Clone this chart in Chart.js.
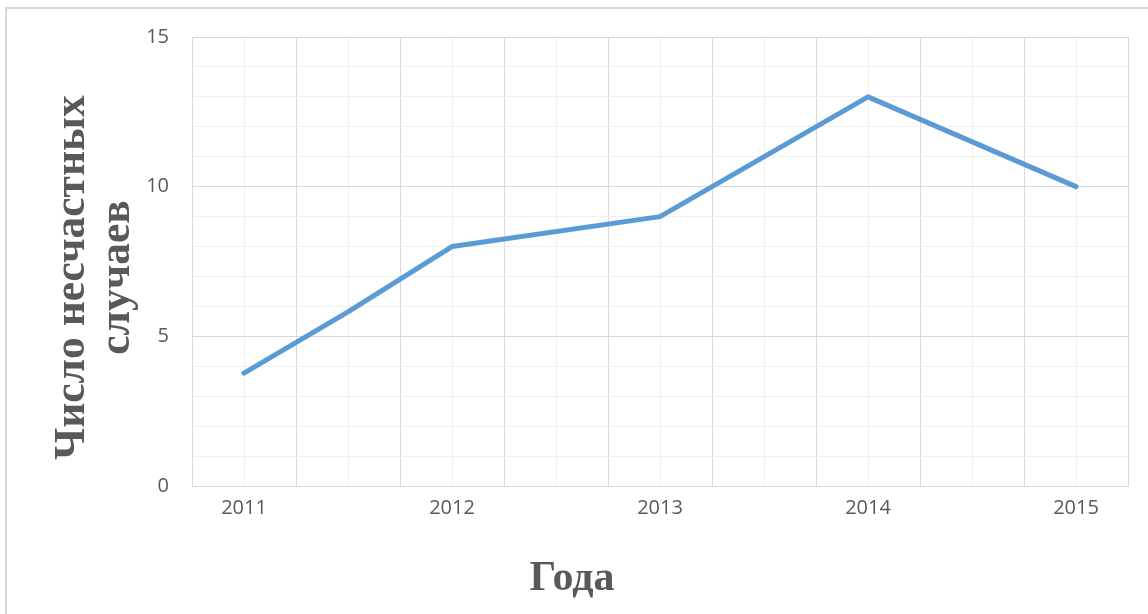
<!DOCTYPE html>
<html lang="ru">
<head>
<meta charset="utf-8">
<title>Число несчастных случаев</title>
<script src="https://cdn.jsdelivr.net/npm/chart.js@4/dist/chart.umd.min.js"></script>
<style>
    body { margin: 0; background: #fff; }
    #wrap { position: relative; width: 1148px; height: 614px; overflow: hidden; }
    #frame { position: absolute; left: 5px; top: 7px; width: 1200px; height: 700px; border: 2px solid #d9d9d9; }
    #wrap canvas { position: absolute; left: 0; top: 0; }
</style>
</head>
<body>
<div id="wrap">
    <div id="frame"></div>
    <canvas id="accidentChart"></canvas>
</div>
<script>
// Данные графика
const years = [2011, 2012, 2013, 2014, 2015];
const pointYears = [2011, 2011.5, 2012, 2013, 2014, 2015];
const accidents = [3.77, 5.82, 8, 9, 13, 10];
const yTicks = [0, 5, 10, 15];
const xGrid = [2010.75, 2011, 2011.25, 2011.5, 2011.75, 2012, 2012.25, 2012.5, 2012.75,
    2013, 2013.25, 2013.5, 2013.75, 2014, 2014.25, 2014.5, 2014.75, 2015, 2015.25];
const yTitle = ["Число несчастных", "случаев"];
const xTitle = "Года";

const textColor = "#595959";
const majorGrid = "#d9d9d9";
const minorGrid = "#f0f0f0";

// Подпись вертикальной оси — два повёрнутых ряда текста
const yTitlePlugin = {
    id: "yTitlePlugin",
    afterDraw(chart) {
        const c = chart.ctx;
        const area = chart.chartArea;
        c.save();
        c.fillStyle = textColor;
        c.font = "bold 43.5px 'Liberation Serif'";
        c.textAlign = "center";
        c.textBaseline = "alphabetic";
        c.translate(area.left - 108, (area.top + area.bottom) / 2 + 16);
        c.rotate(-Math.PI / 2);
        yTitle.forEach(function(line, i) {
            c.fillText(line, 0, i * 45);
        });
        c.restore();
    }
};

document.addEventListener("DOMContentLoaded", function() {
    const ctx = document.getElementById("accidentChart").getContext("2d");
    new Chart(ctx, {
        type: "line",
        data: {
            datasets: [{
                data: pointYears.map(function(x, i) { return { x: x, y: accidents[i] }; }),
                borderColor: "#5b9bd5",
                borderWidth: 5,
                borderCapStyle: "round",
                borderJoinStyle: "round",
                pointRadius: 0,
                tension: 0,
                fill: false
            }]
        },
        options: {
            responsive: true,
            maintainAspectRatio: false,
            animation: false,
            layout: { padding: { left: 16, top: 37, right: 20, bottom: 0 } },
            plugins: {
                legend: { display: false },
                tooltip: { enabled: false },
                title: {
                    display: true,
                    position: "bottom",
                    text: xTitle,
                    color: textColor,
                    font: { family: "'Liberation Serif'", size: 42, weight: "bold" },
                    padding: { top: 0, bottom: 10 }
                }
            },
            scales: {
                x: {
                    type: "linear",
                    min: xGrid[0],
                    max: xGrid[xGrid.length - 1],
                    afterBuildTicks: function(scale) {
                        scale.ticks = xGrid.map(function(v) { return { value: v }; });
                    },
                    afterFit: function(scale) { scale.height = 67.6; },
                    ticks: {
                        autoSkip: false,
                        maxRotation: 0,
                        padding: 10,
                        color: textColor,
                        font: { family: "'Open Sans'", size: 20 },
                        callback: function(value) {
                            return years.includes(value) ? String(value) : "";
                        }
                    },
                    grid: {
                        drawTicks: false,
                        color: function(c) { return c.index % 2 === 0 ? majorGrid : minorGrid; }
                    },
                    border: { color: majorGrid }
                },
                y: {
                    min: 0,
                    max: 15,
                    afterFit: function(scale) { scale.width = 176; },
                    ticks: {
                        stepSize: 1,
                        padding: 23,
                        color: textColor,
                        font: { family: "'Open Sans'", size: 20 },
                        callback: function(value) {
                            return yTicks.includes(value) ? String(value) : "";
                        }
                    },
                    grid: {
                        drawTicks: false,
                        color: function(c) { return yTicks.includes(c.tick.value) ? majorGrid : minorGrid; }
                    },
                    border: { color: majorGrid }
                }
            }
        },
        plugins: [yTitlePlugin]
    });
});
</script>
</body>
</html>
